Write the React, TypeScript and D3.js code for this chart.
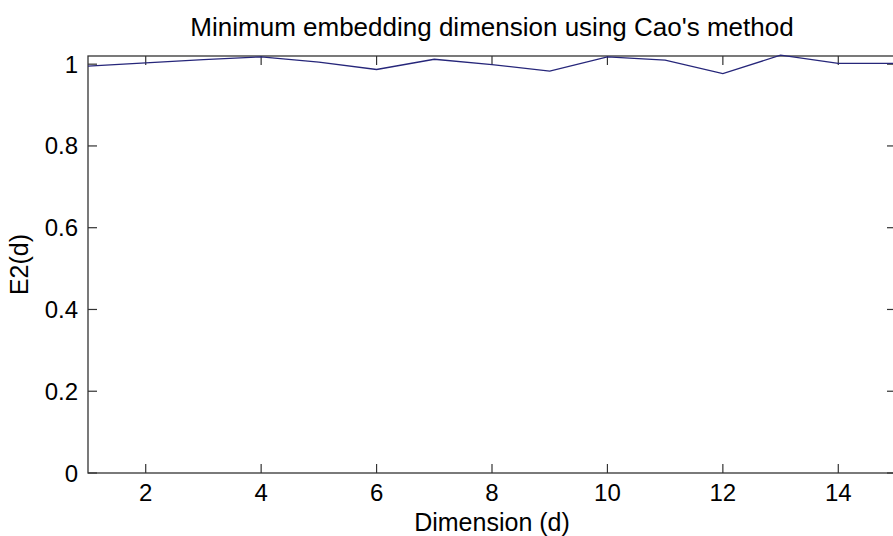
import React from "react";
import * as d3 from "d3";

const dims = [1, 2, 3, 4, 5, 6, 7, 8, 9, 10, 11, 12, 13, 14, 15];
const e2 = [0.995, 1.003, 1.011, 1.018, 1.005, 0.987, 1.012, 0.999, 0.983, 1.018, 1.01, 0.977, 1.022, 1.002, 1.002];
const xTicks = [2, 4, 6, 8, 10, 12, 14];
const yTicks = [0, 0.2, 0.4, 0.6, 0.8, 1];
const title = "Minimum embedding dimension using Cao's method";
const xLabel = "Dimension (d)";
const yLabel = "E2(d)";

export default function App() {
  const W = 893, H = 536;
  const left = 88, right = 896, top = 56, bottom = 473;
  const x = d3.scaleLinear().domain([1, 15]).range([left, right]);
  const y = d3.scaleLinear().domain([0, 1.02]).range([bottom, top]);
  const line = d3.line<number>().x((_, i) => x(dims[i])).y((d) => y(d));
  const axisColor = "#333";
  const font = "'Liberation Sans', Arial, sans-serif";
  const tk = 9;
  return (
    <svg width={W} height={H} style={{ position: "absolute", left: 0, top: 0, background: "#fff" }} fontFamily={font}>
      <rect x={0} y={0} width={W} height={H} fill="#fff" />
      <rect x={left} y={top} width={right - left} height={bottom - top} fill="#fff" stroke={axisColor} strokeWidth={1.3} />
      {xTicks.map((t) => (
        <g key={"x" + t}>
          <line x1={x(t)} x2={x(t)} y1={bottom} y2={bottom - tk} stroke={axisColor} strokeWidth={1.2} />
          <line x1={x(t)} x2={x(t)} y1={top} y2={top + tk} stroke={axisColor} strokeWidth={1.2} />
          <text x={x(t)} y={501} textAnchor="middle" fontSize={24} fill="#000">{t}</text>
        </g>
      ))}
      {yTicks.map((t) => (
        <g key={"y" + t}>
          <line x1={left} x2={left + tk} y1={y(t)} y2={y(t)} stroke={axisColor} strokeWidth={1.2} />
          <line x1={right} x2={right - tk} y1={y(t)} y2={y(t)} stroke={axisColor} strokeWidth={1.2} />
          <text x={78} y={y(t) + 8.5} textAnchor="end" fontSize={24} fill="#000">{t}</text>
        </g>
      ))}
      <path d={line(e2) || ""} fill="none" stroke="#26267a" strokeWidth={1.3} />
      <text x={(left + right) / 2} y={36} textAnchor="middle" fontSize={26} fill="#000">{title}</text>
      <text x={(left + right) / 2} y={531} textAnchor="middle" fontSize={25} fill="#000">{xLabel}</text>
      <text transform={`translate(28,${(top + bottom) / 2}) rotate(-90)`} textAnchor="middle" fontSize={25} fill="#000">{yLabel}</text>
    </svg>
  );
}
